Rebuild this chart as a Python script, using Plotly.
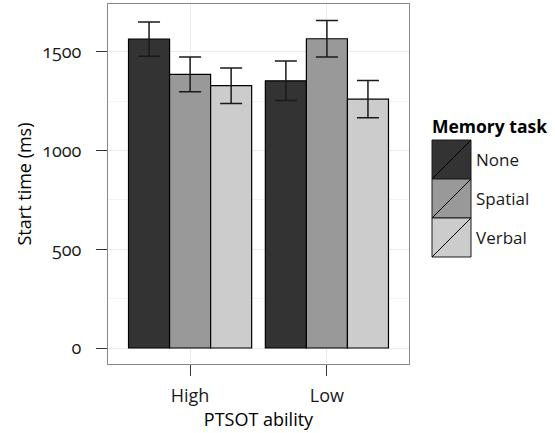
import plotly.graph_objects as go

abilities = ["High", "Low"]
tasks = ["None", "Spatial", "Verbal"]
colors = ["#333333", "#999999", "#CCCCCC"]
means = {
    "None": [1565, 1354],
    "Spatial": [1386, 1567],
    "Verbal": [1329, 1261],
}
errors = {
    "None": [87, 100],
    "Spatial": [88, 92],
    "Verbal": [90, 94],
}

FONT = "Open Sans"
W, H = 555, 433
L, R, T, B = 108, 146, 4, 69
PW, PH = W - L - R, H - T - B

fig = go.Figure()
for t, c in zip(tasks, colors):
    fig.add_trace(go.Bar(
        x=abilities, y=means[t], name=t,
        marker=dict(color=c, line=dict(color="#000000", width=1.2)),
        error_y=dict(type="data", array=errors[t], color="#1a1a1a",
                     thickness=1.5, width=11),
        showlegend=False,
    ))

def px(x):
    return (x - L) / PW

def py(y):
    return (H - B - y) / PH

shapes = []
annotations = []
key_x0, key_x1 = 432, 471
key_top = 140
key_h = 39
for i, (t, c) in enumerate(zip(tasks, colors)):
    y0 = key_top + i * key_h
    y1 = y0 + key_h
    shapes.append(dict(type="rect", xref="paper", yref="paper",
                       x0=px(key_x0), x1=px(key_x1), y0=py(y1), y1=py(y0),
                       fillcolor=c, line=dict(color="#1a1a1a", width=1)))
    shapes.append(dict(type="line", xref="paper", yref="paper",
                       x0=px(key_x0), x1=px(key_x1), y0=py(y1), y1=py(y0),
                       line=dict(color="#000000", width=1)))
    annotations.append(dict(text=t, xref="paper", yref="paper",
                            x=px(474), y=py((y0 + y1) / 2), xanchor="left",
                            yanchor="middle", showarrow=False,
                            font=dict(family=FONT, size=17, color="#1a1a1a")))
annotations.append(dict(text="<b>Memory task</b>", xref="paper", yref="paper",
                        x=px(430), y=py(126), xanchor="left", yanchor="middle",
                        showarrow=False,
                        font=dict(family=FONT, size=17.5, color="#000000")))

fig.update_layout(
    width=W, height=H,
    margin=dict(l=L, r=R, t=T, b=B, autoexpand=False),
    paper_bgcolor="white", plot_bgcolor="white",
    barmode="group", bargap=0.1, bargroupgap=0,
    font=dict(family=FONT, size=17, color="#1a1a1a"),
    shapes=shapes, annotations=annotations,
    xaxis=dict(
        type="category", range=[-0.6, 1.6], automargin=False,
        showgrid=True, gridcolor="#EBEBEB", gridwidth=1,
        showline=True, mirror=True, linecolor="#888888", linewidth=1,
        ticks="outside", ticklen=11, tickcolor="#333333", tickwidth=1,
        ticklabelstandoff=4,
        tickfont=dict(size=18, color="#1a1a1a"),
        title=dict(text="PTSOT ability", font=dict(size=18, color="#000000"), standoff=2),
        zeroline=False,
    ),
    yaxis=dict(
        range=[-81, 1743], automargin=False,
        tickvals=[0, 500, 1000, 1500],
        showgrid=True, gridcolor="#EBEBEB", gridwidth=1,
        minor=dict(dtick=250, tick0=0, showgrid=True, gridcolor="#F3F3F3", gridwidth=1),
        showline=True, mirror=True, linecolor="#888888", linewidth=1,
        ticks="outside", ticklen=11, tickcolor="#333333", tickwidth=1,
        ticklabelstandoff=11,
        tickfont=dict(size=18, color="#1a1a1a"),
        title=dict(text="Start time (ms)", font=dict(size=18, color="#000000"), standoff=3),
        zeroline=False,
    ),
)

post = """
var s=document.createElement('style');
s.innerHTML='body{margin:0;padding:0;overflow:hidden;} text{font-variant-numeric: oldstyle-nums; font-feature-settings: "onum" 1;}';
document.head.appendChild(s);
"""
fig.write_html("out.html", post_script=post, config={"displayModeBar": False})
